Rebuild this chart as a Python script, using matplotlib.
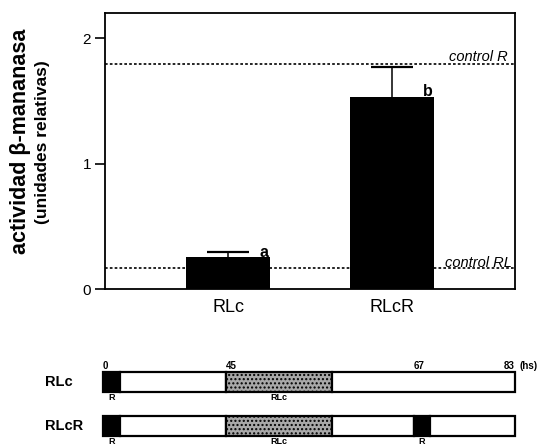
import numpy as np
import matplotlib
matplotlib.use('Agg')
import matplotlib.pyplot as plt
from matplotlib.patches import Rectangle

plt.rcParams['font.family'] = ['Liberation Sans', 'DejaVu Sans']

# bar chart data
treatments = ['RLc', 'RLcR']
activity = [0.256, 1.534]
activity_err = [0.04, 0.237]
sig_letters = ['a', 'b']
control_names = ['control R', 'control RL']
control_values = [1.798, 0.168]

# schematic of the treatments (schematic units, 0-100 along the bar)
rows = ['RLc', 'RLcR']
seg_start = [[0, 4.1, 29.9, 55.6],
             [0, 4.1, 29.9, 55.6, 75.5, 79.4]]
seg_end = [[4.1, 29.9, 55.6, 100],
           [4.1, 29.9, 55.6, 75.5, 79.4, 100]]
seg_kind = [['R', '', 'RLc', ''],
            ['R', '', 'RLc', '', 'R', '']]
time_labels = ['0', '45', '67', '83']
time_pos = [0, 29.9, 75.5, 100]

fig = plt.figure(figsize=(5.44, 4.45), dpi=100)
W, H = 544, 445

# ---- top bar chart ----
ax = fig.add_axes([105 / W, 1 - 289.3 / H, 410 / W, 276 / H])
x = np.arange(1, len(treatments) + 1)
ax.bar(x, activity, width=0.51, color='black', zorder=3)
# error bars drawn under the bars so only the upper half shows
ax.errorbar(x, activity, yerr=activity_err, fmt='none',
            ecolor='black', elinewidth=1.1, capsize=15, capthick=1.6, zorder=2)
for xi, v, s in zip(x, activity, sig_letters):
    ax.text(xi + 0.22, v + 0.005, s, fontsize=11.5, fontweight='bold',
            ha='center', va='baseline', zorder=4)

ax.set_xlim(0.25, 2.75)
ax.set_ylim(0, 2.2)
for v, name in zip(control_values, control_names):
    ax.axhline(v, color='black', linestyle=(0, (1.6, 1.3)), linewidth=1.2, zorder=1)
    if name == 'control R':
        ax.text(2.707, v + 0.02, name, fontsize=10.5, style='italic',
                ha='right', va='baseline')
    else:
        ax.text(2.729, v + 0.008, name, fontsize=10.5, style='italic',
                ha='right', va='baseline')

ax.set_yticks([0, 1, 2])
ax.set_yticklabels(['0', '1', '2'], fontsize=11)
ax.set_xticks(x)
ax.set_xticklabels(treatments, fontsize=13)
ax.tick_params(axis='x', length=0, pad=7)
ax.tick_params(axis='y', length=7, width=1.2, direction='out', pad=3)
for sp in ax.spines.values():
    sp.set_linewidth(1.3)

fig.text(21 / W, 1 - 141 / H, u'actividad \u03b2-mananasa', rotation=90,
         fontsize=15.5, fontweight='bold', ha='center', va='center')
fig.text(43 / W, 1 - 142 / H, '(unidades relativas)', rotation=90,
         fontsize=12.5, fontweight='bold', ha='center', va='center')

# ---- bottom schematic ----
ax2 = fig.add_axes([103 / W, 0, 412 / W, 90 / H])
ax2.set_xlim(0, 100)
ax2.set_ylim(1.432, -0.614)
ax2.axis('off')

fills = {'R': 'black', '': 'white', 'RLc': '#a8a8a8'}
bar_h = 0.44
for r, name in enumerate(rows):
    for s, e, k in zip(seg_start[r], seg_end[r], seg_kind[r]):
        ax2.add_patch(Rectangle((s, r - bar_h / 2), e - s, bar_h,
                                facecolor=fills[k], edgecolor='black',
                                linewidth=1.6, clip_on=False,
                                hatch='....' if k == 'RLc' else None))
        if k:
            ax2.text((s + e) / 2, r + bar_h / 2 + 0.03, k, fontsize=6.5,
                     fontweight='bold', ha='center', va='top', clip_on=False)
    ax2.text(-14, r, name, fontsize=10.5, fontweight='bold', ha='left',
             va='center')

for lab, p in zip(time_labels, time_pos):
    ax2.text(p, -bar_h / 2 - 0.03, lab, fontsize=7, fontweight='bold',
             ha='right' if p == 100 else 'left', va='bottom')
ax2.text(101, -bar_h / 2 - 0.03, '(hs)', fontsize=7, fontweight='bold',
         ha='left', va='bottom')

fig.savefig('out.png', dpi=100)
